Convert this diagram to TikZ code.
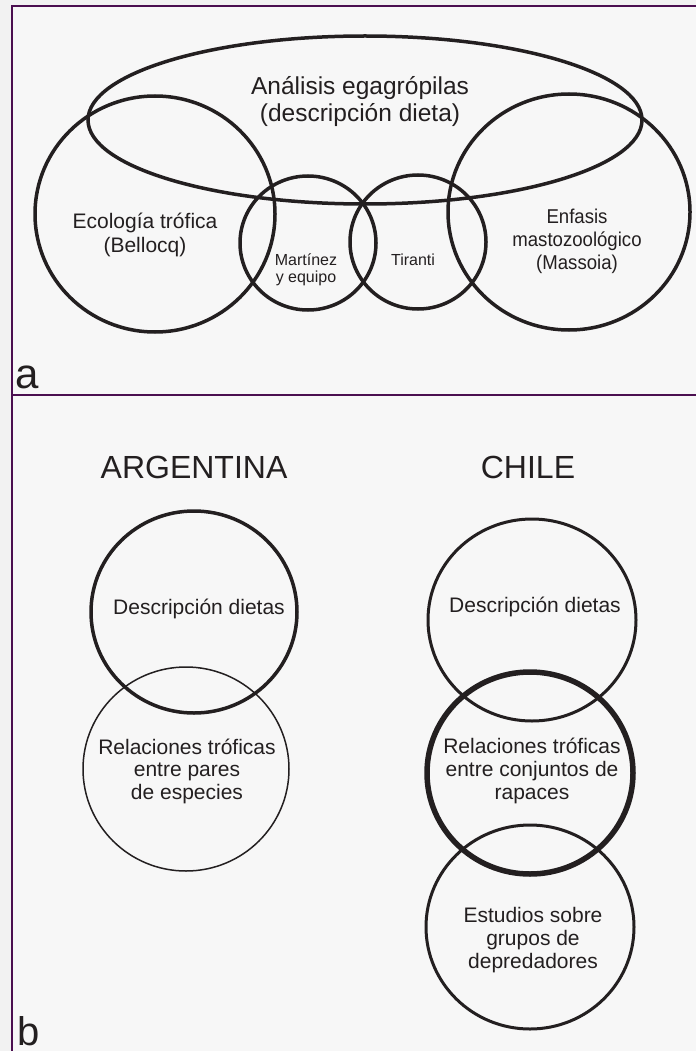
\documentclass[tikz,border=0pt]{standalone}
\usepackage{fontspec}
\setmainfont{Liberation Sans}
\newfontfamily\narrowfont{Liberation Sans}[FakeStretch=0.93]
\definecolor{ink}{HTML}{231F20}
\definecolor{framecol}{RGB}{75,15,80}
\definecolor{bgout}{HTML}{F2F2F2}
\definecolor{bgin}{HTML}{F7F7F7}
\begin{document}
\begin{tikzpicture}[x=1pt,y=-1pt,
  ring/.style={draw=ink,line width=3.5pt},
  thinring/.style={draw=ink,line width=1.5pt},
  fatring/.style={draw=ink,line width=5.5pt},
  midring/.style={draw=ink,line width=3pt},
  framel/.style={draw=framecol,line width=2pt},
  lbl/.style={text=ink,inner sep=0pt,align=center},
  fs/.style n args={2}{font=\fontsize{#1}{#2}\selectfont},
  nfs/.style n args={2}{font=\narrowfont\fontsize{#1}{#2}\selectfont}
]
\useasboundingbox (0,0) rectangle (696,1051);
\fill[bgout] (0,0) rectangle (696,1051);
\fill[bgin] (12,6) rectangle (696,1051);
% frame
\draw[framel] (12,1051) -- (12,6) -- (696,6);
\draw[framel] (12,395) -- (696,395);

% panel a
\draw[ring] (365,120) ellipse [x radius=277pt, y radius=84pt];
\draw[ring] (155,214) ellipse [x radius=120pt, y radius=118pt];
\draw[ring] (569,212) ellipse [x radius=121pt, y radius=118pt];
\draw[ring] (308,243) ellipse [x radius=68pt, y radius=67pt];
\draw[ring] (418,242) ellipse [x radius=68pt, y radius=67pt];

\node[lbl,fs={24.5}{27}] (eg) at (360,102) {Análisis egagrópilas\\(descripción dieta)};
\node[lbl,fs={21}{24}] (bel) at (145,235) {Ecología trófica\\(Bellocq)};
\node[lbl,nfs={20}{23}] (mas) at (577,241) {Enfasis\\mastozoológico\\(Massoia)};
\node[lbl,fs={16}{17.5}] (mar) at (306,270) {Martínez\\y equipo};
\node[lbl,fs={16}{17.5}] (tir) at (413,260) {Tiranti};
\node[text=ink,inner sep=0pt,anchor=base west,fs={42}{42}] (la) at (15,388) {a};

% panel b
\node[lbl,fs={32}{36}] (arg) at (194,467) {ARGENTINA};
\node[lbl,fs={32}{36}] (chi) at (528,467) {CHILE};

\draw[ring] (194,612) ellipse [x radius=103pt, y radius=101pt];
\draw[thinring] (186,769) ellipse [x radius=103pt, y radius=102pt];
\draw[midring] (532,620) ellipse [x radius=104pt, y radius=101pt];
\draw[fatring] (530,773) ellipse [x radius=103pt, y radius=101pt];
\draw[midring] (530,927) ellipse [x radius=104pt, y radius=102pt];

\node[lbl,fs={21}{23}] (ad) at (199,609) {Descripción dietas};
\node[lbl,fs={21}{23}] (cd) at (535,607) {Descripción dietas};
\node[lbl,fs={21}{22.5}] (ar) at (187,771) {Relaciones tróficas\\entre pares\\de especies};
\node[lbl,fs={21}{23}] (cr) at (532,771) {Relaciones tróficas\\entre conjuntos de\\rapaces};
\node[lbl,fs={21}{23}] (ce) at (533,940) {Estudios sobre\\grupos de\\depredadores};
\node[text=ink,inner sep=0pt,anchor=base west,fs={40}{40}] (lb) at (17,1045) {b};
\end{tikzpicture}
\end{document}
